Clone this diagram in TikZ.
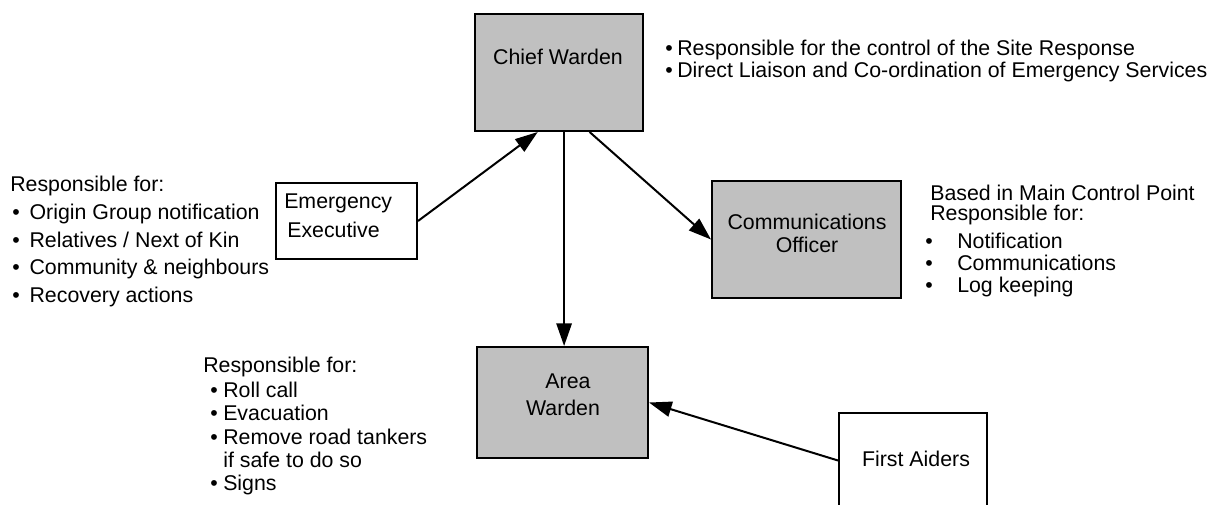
\documentclass[tikz,border=0pt]{standalone}
\usepackage{fontspec}
\setmainfont{Liberation Sans}
\usetikzlibrary{arrows.meta,fit,calc}
\definecolor{boxgray}{HTML}{C0C0C0}
\begin{document}
\begin{tikzpicture}[x=0.75pt,y=-0.75pt,
  every node/.style={font=\fontsize{16}{18}\selectfont},
  txt/.style={inner sep=0,anchor=base west},
  ctxt/.style={inner sep=0,anchor=base},
  gbox/.style={draw,line width=1.5pt,fill=boxgray,inner sep=0},
  wbox/.style={draw,line width=1.5pt,fill=white,inner sep=0},
  arr/.style={line width=1.5pt,-{Triangle[length=17pt,width=11.5pt]}}]
\useasboundingbox (0,0) rectangle (1220,504);
\clip (0,0) rectangle (1220,504);

% boxes
\node[gbox,fit={(475,14) (643,131)}] (cw) {};
\node[wbox,fit={(276,183) (417,259)}] (ee) {};
\node[gbox,fit={(712,181) (901,298)}] (co) {};
\node[gbox,fit={(477,347) (648,458)}] (aw) {};
\node[wbox,fit={(839,413) (987,508)}] (fa) {};

% box labels
\node[ctxt] (cwt) at (558,64.5) {Chief Warden};
\node[txt] (eet1) at (284,208.5) {Emergency};
\node[txt] (eet2) at (287,237.5) {Executive};
\node[ctxt] (cot1) at (807,229.5) {Communications};
\node[ctxt] (cot2) at (807,252.5) {Officer};
\node[ctxt] (awt1) at (568,388.5) {Area};
\node[ctxt] (awt2) at (563,415.5) {Warden};
\node[ctxt] (fat) at (916,466.5) {First Aiders};

% connectors
\coordinate (cwa) at ($(cw.south west)!0.375!(cw.south east)$);
\coordinate (cwb) at ($(cw.south west)!0.53!(cw.south east)$);
\coordinate (cwc) at ($(cw.south west)!0.68!(cw.south east)$);
\draw[arr] (ee.east) -- (cwa);
\draw[arr] (cwb) -- (cwb |- aw.north);
\draw[arr] (cwc) -- (co.west);
\draw[arr] (fa.west) -- (aw.east);

% top right notes
\node[txt] (n1) at (665,55.5) {\makebox[9pt][l]{•}Responsible for the control of the Site Response};
\node[txt] (n2) at (665,77.5) {\makebox[9pt][l]{•}Direct Liaison and Co-ordination of Emergency Services};

% left notes
\node[txt] (l0) at (10,191.5) {Responsible for:};
\node[txt] (l1) at (12,219.5) {\makebox[13pt][l]{•}Origin Group notification};
\node[txt] (l2) at (12,247.5) {\makebox[13pt][l]{•}Relatives / Next of Kin};
\node[txt] (l3) at (12,274.5) {\makebox[13pt][l]{•}Community \& neighbours};
\node[txt] (l4) at (12,302.5) {\makebox[13pt][l]{•}Recovery actions};

% comm notes
\node[txt] (r0) at (930,200) {Based in Main Control Point};
\node[txt] (r1) at (930,220.5) {Responsible for:};
\node[txt] (r2) at (925,248) {\makebox[24pt][l]{•}Notification};
\node[txt] (r3) at (925,270.5) {\makebox[24pt][l]{•}Communications};
\node[txt] (r4) at (925,292.5) {\makebox[24pt][l]{•}Log keeping};

% area notes
\node[txt] (a0) at (203,372.5) {Responsible for:};
\node[txt] (a1) at (210,397.5) {\makebox[9.75pt][l]{•}Roll call};
\node[txt] (a2) at (210,420.5) {\makebox[9.75pt][l]{•}Evacuation};
\node[txt] (a3) at (210,444.5) {\makebox[9.75pt][l]{•}Remove road tankers};
\node[txt] (a4) at (223,467.5) {if safe to do so};
\node[txt] (a5) at (210,490.5) {\makebox[9.75pt][l]{•}Signs};
\end{tikzpicture}
\end{document}
